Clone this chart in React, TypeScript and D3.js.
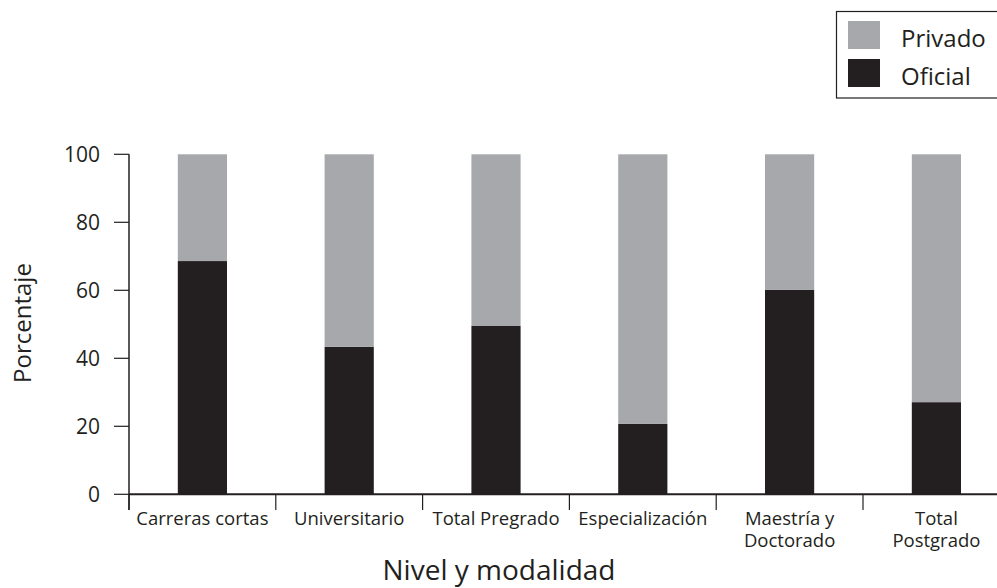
import React from "react";
import * as d3 from "d3";

const categories: string[][] = [
  ["Carreras cortas"],
  ["Universitario"],
  ["Total Pregrado"],
  ["Especialización"],
  ["Maestría y", "Doctorado"],
  ["Total", "Postgrado"],
];
const oficial: number[] = [68.6, 43.4, 49.5, 20.7, 60.1, 27.1];
const privado: number[] = oficial.map((v) => 100 - v);
const yTicks: number[] = [0, 20, 40, 60, 80, 100];
const seriesNames = ["Privado", "Oficial"];

const DARK = "#231f20";
const GRAY = "#a7a8ab";
const FONT = "'Open Sans', Lato, sans-serif";

export default function App() {
  const W = 997;
  const H = 588;
  const keys = categories.map((c) => c.join(" "));
  const x = d3.scaleBand<string>().domain(keys).range([129, 129 + 6 * 146.8]).padding(0);
  const y = d3.scaleLinear().domain([0, 100]).range([494.3, 154.3]);
  const bw = x.bandwidth();
  const barW = bw * 0.335;

  const data = keys.map((k, i) => ({ key: k, oficial: oficial[i], privado: privado[i] }));
  const stack = d3.stack<any>().keys(["oficial", "privado"])(data);

  return (
    <svg width={W} height={H} style={{ position: "absolute", left: 0, top: 0, background: "#fff" }} fontFamily={FONT}>
      {stack.map((s) => (
        <g key={s.key} fill={s.key === "oficial" ? DARK : GRAY}>
          {s.map((d, i) => (
            <rect
              key={i}
              x={(x(keys[i]) as number) + (bw - barW) / 2}
              width={barW}
              y={y(d[1])}
              height={y(d[0]) - y(d[1])}
            />
          ))}
        </g>
      ))}
      <line x1={129} x2={129} y1={y(100)} y2={510} stroke={DARK} strokeWidth={1.5} />
      {yTicks.map((t) => (
        <g key={t}>
          <line x1={114} x2={129} y1={y(t)} y2={y(t)} stroke={DARK} strokeWidth={1.2} />
          <text x={100} y={y(t)} dy="0.35em" textAnchor="end" fontSize={21} fill={DARK}>
            {t}
          </text>
        </g>
      ))}
      <line x1={129} x2={W} y1={y(0)} y2={y(0)} stroke={DARK} strokeWidth={2} />
      {keys.map((k) => (
        <line key={k} x1={x(k) as number} x2={x(k) as number} y1={y(0)} y2={510} stroke={DARK} strokeWidth={1.2} />
      ))}
      {categories.map((lines, i) => (
        <text key={i} textAnchor="middle" fontSize={18.5} fill={DARK}>
          {lines.map((ln, j) => (
            <tspan key={j} x={(x(keys[i]) as number) + bw / 2} y={525 + j * 22}>
              {ln}
            </tspan>
          ))}
        </text>
      ))}
      <text x={499} y={580} textAnchor="middle" fontSize={28} fill={DARK}>
        Nivel y modalidad
      </text>
      <text transform="translate(31,323) rotate(-90)" textAnchor="middle" fontSize={24} fill={DARK}>
        Porcentaje
      </text>
      <rect x={836.5} y={11.5} width={200} height={86.5} fill="#fff" stroke={DARK} strokeWidth={1.2} />
      {seriesNames.map((n, i) => (
        <g key={n}>
          <rect x={848} y={21 + i * 38} width={32} height={28} fill={n === "Oficial" ? DARK : GRAY} />
          <text x={901} y={47 + i * 38} fontSize={24} fill={DARK}>
            {n}
          </text>
        </g>
      ))}
    </svg>
  );
}
